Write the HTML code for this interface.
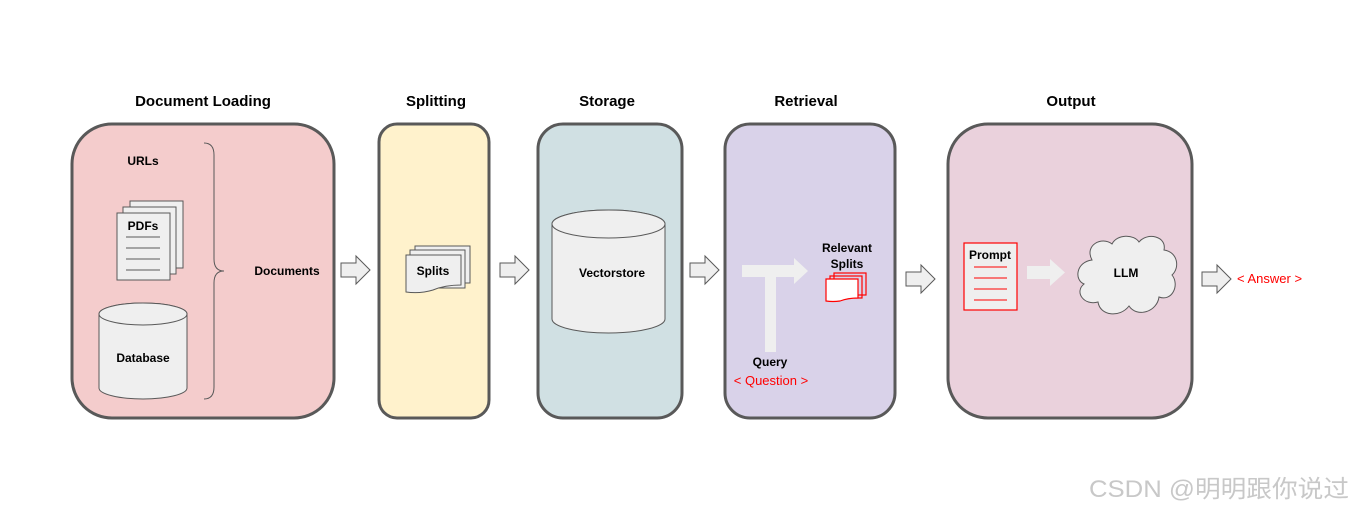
<!DOCTYPE html>
<html><head><meta charset="utf-8"><style>
html,body{margin:0;padding:0;background:#fff;}
svg{display:block;}
text{font-family:"Liberation Sans",Arial,sans-serif;}
.t{font-weight:bold;font-size:15px;text-anchor:middle;fill:#000;}
.l{font-weight:bold;font-size:12px;text-anchor:middle;fill:#000;}
.box{stroke:#595959;stroke-width:3;}
.g{fill:#efefef;stroke:#595959;stroke-width:1;}
.r{fill:none;stroke:#ff0000;stroke-width:1.2;}
</style></head><body>
<svg width="1354" height="511" viewBox="0 0 1354 511" xmlns="http://www.w3.org/2000/svg">
<defs>
<path id="arr" d="M0,-7 L15,-7 L15,-14 L29,0 L15,14 L15,7 L0,7 Z" fill="#efefef" stroke="#595959" stroke-width="1"/>
</defs>
<text class="t" x="203" y="106">Document Loading</text>
<text class="t" x="436" y="106">Splitting</text>
<text class="t" x="607" y="106">Storage</text>
<text class="t" x="806" y="106">Retrieval</text>
<text class="t" x="1071" y="106">Output</text>
<rect class="box" x="72" y="124" width="262" height="294" rx="40" fill="#f4cccc"/>
<rect class="box" x="379" y="124" width="110" height="294" rx="18" fill="#fff2cc"/>
<rect class="box" x="538" y="124" width="144" height="294" rx="25" fill="#d0e0e3"/>
<rect class="box" x="725" y="124" width="170" height="294" rx="25" fill="#d9d2e9"/>
<rect class="box" x="948" y="124" width="244" height="294" rx="40" fill="#ead1dc"/>
<use href="#arr" x="341" y="270"/>
<use href="#arr" x="500" y="270"/>
<use href="#arr" x="690" y="270"/>
<use href="#arr" x="906" y="279"/>
<use href="#arr" x="1202" y="279"/>
<text class="l" x="143" y="165">URLs</text>
<rect class="g" x="130" y="201" width="53" height="67"/>
<rect class="g" x="123" y="207" width="53" height="67"/>
<rect class="g" x="117" y="213" width="53" height="67"/>
<text class="l" x="143" y="230">PDFs</text>
<g stroke="#595959" stroke-width="1"><line x1="126" y1="237" x2="160" y2="237"/><line x1="126" y1="248" x2="160" y2="248"/><line x1="126" y1="259" x2="160" y2="259"/><line x1="126" y1="270" x2="160" y2="270"/></g>
<path class="g" d="M99,314 L99,388 A44,11 0 0 0 187,388 L187,314 A44,11 0 0 0 99,314 Z"/>
<ellipse class="g" cx="143" cy="314" rx="44" ry="11"/>
<text class="l" x="143" y="362">Database</text>
<path d="M204,143 Q214,143 214,155 L214,259 Q214,271 224,271 Q214,271 214,283 L214,387 Q214,399 204,399" fill="none" stroke="#595959" stroke-width="1"/>
<text class="l" x="287" y="275">Documents</text>
<rect class="g" x="415" y="246" width="55" height="37"/>
<rect class="g" x="410" y="250" width="55" height="38"/>
<path class="g" d="M406,255 L461,255 L461,285 Q445,285 433,290 Q420,294 406,292 Z"/>
<text class="l" x="433" y="275">Splits</text>
<path class="g" d="M552,224 L552,319 A56.5,14 0 0 0 665,319 L665,224 A56.5,14 0 0 0 552,224 Z"/>
<ellipse class="g" cx="608.5" cy="224" rx="56.5" ry="14"/>
<text class="l" x="612" y="277">Vectorstore</text>
<path d="M742,265 L794,265 L794,258 L808,271 L794,284 L794,277 L776,277 L776,352 L765,352 L765,277 L742,277 Z" fill="#efefef"/>
<text class="l" x="847" y="252">Relevant</text>
<text class="l" x="847" y="268">Splits</text>
<rect class="r" x="834" y="273" width="32" height="22"/>
<rect class="r" x="830" y="276" width="32" height="22"/>
<path d="M826,279 L858,279 L858,298 Q848,298 840,301 Q833,302 826,301 Z" fill="#fff" stroke="#ff0000" stroke-width="1.2"/>
<text class="l" x="770" y="366">Query</text>
<text x="771" y="385" font-size="13" text-anchor="middle" fill="#ff0000">&lt; Question &gt;</text>
<rect x="964" y="243" width="53" height="67" fill="#efefef" stroke="#ff0000" stroke-width="1.2"/>
<text class="l" x="990" y="259">Prompt</text>
<g stroke="#ff0000" stroke-width="1"><line x1="974" y1="267" x2="1007" y2="267"/><line x1="974" y1="278" x2="1007" y2="278"/><line x1="974" y1="289" x2="1007" y2="289"/><line x1="974" y1="300" x2="1007" y2="300"/></g>
<path d="M1027,266 L1050,266 L1050,259 L1065,272.5 L1050,286 L1050,279 L1027,279 Z" fill="#efefef"/>
<path d="M1092,260 C1084,245 1102,236 1112,244 C1117,234 1134,234 1139,242 C1147,232 1167,236 1164,250 C1178,252 1180,268 1172,275 C1180,285 1172,302 1159,297 C1157,312 1137,318 1129,306 C1120,318 1100,316 1098,302 C1084,306 1074,292 1084,284 C1074,280 1076,262 1092,260 Z" fill="#efefef" stroke="#595959" stroke-width="1"/>
<text class="l" x="1126" y="277">LLM</text>
<text x="1237" y="283" font-size="13" fill="#ff0000">&lt; Answer &gt;</text>
<text x="1089" y="497" font-size="24" textLength="260" lengthAdjust="spacingAndGlyphs" fill="#c8c8c8" style="font-family:'Liberation Sans','Noto Sans CJK SC',sans-serif">CSDN @明明跟你说过</text>
</svg>
</body></html>
